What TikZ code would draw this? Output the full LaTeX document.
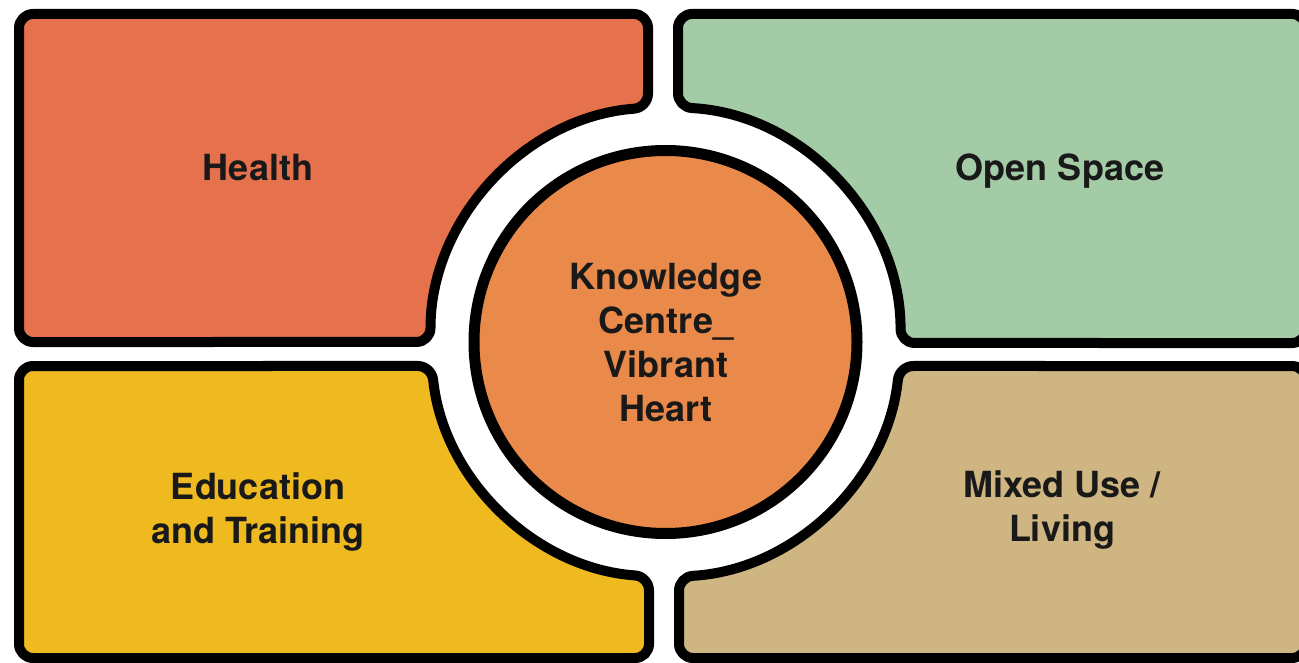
\documentclass[tikz,border=0pt]{standalone}
\usepackage{fontspec}
\setmainfont{TeX Gyre Heros}
\definecolor{healthc}{HTML}{E5714D}
\definecolor{openc}{HTML}{A3CBA6}
\definecolor{educc}{HTML}{EFB920}
\definecolor{mixedc}{HTML}{CEB581}
\definecolor{heartc}{HTML}{E98A4A}
\tikzset{
  quad/.style={draw=black, line width=10pt, line join=round, rounded corners=14pt},
  lab/.style={font=\fontsize{36}{44}\selectfont\bfseries, align=center, text=black!90}
}
\begin{document}
\begin{tikzpicture}[x=1pt,y=-1pt]
\useasboundingbox (0,0) rectangle (1299,663);
\clip (0,0) rectangle (1299,663);
\fill[white] (0,0) rectangle (1299,663);
% quadrants
\draw[quad, fill=healthc] (200,342) -- (19,342) -- (19,14) -- (648,14) -- (648,107.65)
  arc[start angle=265.73, end angle=180, radius=235] -- cycle;
\draw[quad, fill=openc] (1100,343) -- (1306,343) -- (1306,14) -- (678,14) -- (678,107.33)
  arc[start angle=273.05, end angle=360.24, radius=235] -- cycle;
\draw[quad, fill=educc] (200,366) -- (19,366) -- (19,658) -- (649,658) -- (649,576.42)
  arc[start angle=94.03, end angle=174.14, radius=235] -- cycle;
\draw[quad, fill=mixedc] (1100,366) -- (1306,366) -- (1306,658) -- (679,658) -- (679,576.61)
  arc[start angle=86.71, end angle=5.86, radius=235] -- cycle;
% centre
\node[circle, draw=black, line width=11pt, fill=heartc, minimum size=383pt, inner sep=0pt] (heart) at (665.5,342) {};
\node[lab] (hearttxt) at (666,343) {Knowledge\\Centre\_\\Vibrant\\Heart};
\node[lab] (health) at (258,168) {Health};
\node[lab] (open) at (1060,171) {Open Space};
\node[lab] (educ) at (258,512) {Education\\and Training};
\node[lab] (mixed) at (1062,510) {Mixed Use /\\Living};
\end{tikzpicture}
\end{document}
